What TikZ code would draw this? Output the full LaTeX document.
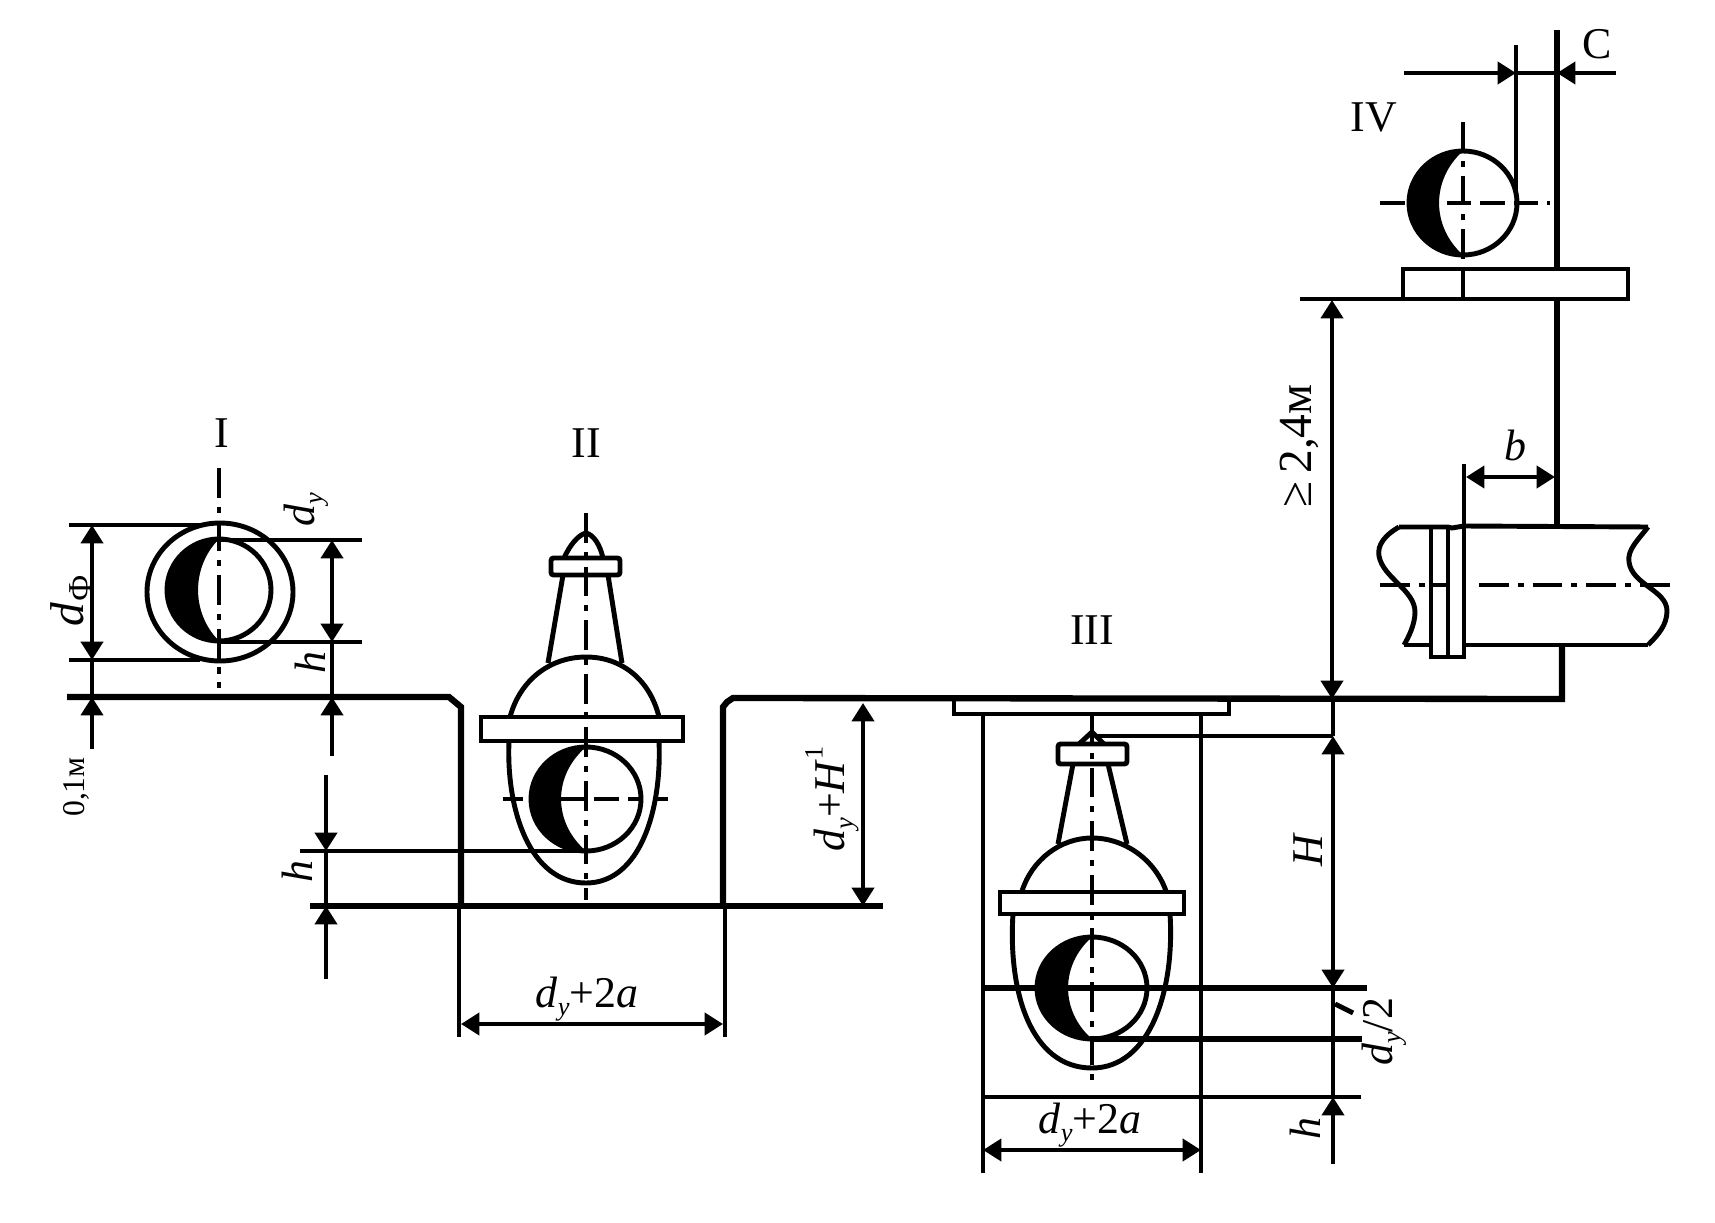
\documentclass[tikz,border=0pt]{standalone}
\usepackage{fontspec}
\setmainfont{Liberation Serif}
\usetikzlibrary{arrows.meta}

\newcommand{\dsub}[1]{\textit{d}\raisebox{-.4ex}{\fontsize{15}{15}\selectfont\textit{#1}}}
% inner circle with black crescent: x, y, x radius, y radius, x of the crescent edge
\newcommand{\lampeye}[5]{
    \draw[part] (#1,#2) ellipse [x radius=#3, y radius=#4];
    \fill (#1,#2-#4) arc [start angle=270, end angle=90, x radius=#3, y radius=#4]
        .. controls (#1+#5*1.33-#1*1.33,#2+0.45*#4) and (#1+#5*1.33-#1*1.33,#2-0.45*#4) .. (#1,#2-#4);
}

\begin{document}
\begin{tikzpicture}[
        x=0.02cm, y=-0.02cm,
        part/.style={line width=2.8pt},
        wall/.style={line width=3.6pt},
        ext/.style={line width=2.5pt},
        dim/.style={line width=2.5pt, {Triangle[length=10.5pt,width=12.5pt]}-{Triangle[length=10.5pt,width=12.5pt]}},
        dimin/.style={line width=2.5pt, -{Triangle[length=10.5pt,width=12.5pt]}},
        axis/.style={line width=2.6pt, dash pattern=on 17pt off 5pt on 3.5pt off 5pt},
        cross/.style={line width=2.6pt, dash pattern=on 14pt off 5pt},
        lbl/.style={inner sep=0pt, font=\fontsize{25}{30}\selectfont},
        small/.style={inner sep=0pt, font=\fontsize{18}{20}\selectfont}
    ]
        \useasboundingbox (0,0) rectangle (1715,1223);

        % Ground line and niche
        \draw[wall] (67,697) -- (449,697) -- (455,702) -- (461,707) -- (461,906);
        \draw[wall] (723,906) -- (723,707) -- (727,702) -- (733,698) -- (1562,699) -- (1562,645);
        \draw[wall] (310,906) -- (883,906);
        \draw[ext] (459,906) -- (459,1037);
        \draw[ext] (725,906) -- (725,1037);

        % Lamp I
        \node[lbl] (labelI) at (222,433) {I};
        \draw[axis] (219,468) -- (219,688);
        \draw[part] (220,592) ellipse [x radius=73, y radius=69];
        \lampeye{219}{590}{52}{51}{198}
        \draw[ext] (69,525) -- (200,525);
        \draw[ext] (69,660) -- (200,660);
        \draw[ext] (219,540) -- (362,540);
        \draw[ext] (219,642) -- (362,642);
        \draw[dim] (92,525) -- (92,660);
        \draw[ext] (92,660) -- (92,697);
        \draw[dimin] (92,749) -- (92,697);
        \draw[dim] (332,540) -- (332,642);
        \draw[ext] (332,642) -- (332,697);
        \draw[dimin] (332,756) -- (332,697);

        % Lamp II
        \node[lbl] (labelII) at (586,443) {II};
        \draw[axis] (586,513) -- (586,900);
        \draw[part] (564,558) .. controls (570,545) and (578,535) .. (586,533) .. controls (594,535) and (600,545) .. (603,558);
        \draw[part, rounded corners=1.5pt] (551,558) rectangle (620,575);
        \draw[part] (563,575) -- (548,663);
        \draw[part] (608,575) -- (622,663);
        \draw[part] (510,717) .. controls (520,680) and (550,657) .. (586,657) .. controls (622,657) and (650,680) .. (659,717);
        \draw[part] (481,717) rectangle (683,741);
        \draw[part] (509,741) .. controls (506,810) and (530,883) .. (586,883) .. controls (640,883) and (662,810) .. (659,741);
        \lampeye{586}{799}{55}{52}{561}
        \draw[cross] (561,799) -- (640,799);
        \draw[ext] (503,799) -- (523,799);
        \draw[ext] (653,799) -- (668,799);
        \draw[ext] (300,851) -- (586,851);
        \draw[dimin] (326,775) -- (326,851);
        \draw[ext] (326,851) -- (326,906);
        \draw[dimin] (326,979) -- (326,906);
        \draw[dim] (461,1024) -- (723,1024);
        \draw[dim] (863,703) -- (863,906);

        % Lamp III
        \node[lbl] (labelIII) at (1092,630) {III};
        \draw[part] (954,699) -- (954,714) -- (1229,714) -- (1229,699);
        \draw[ext] (983,714) -- (983,1173);
        \draw[ext] (1201,714) -- (1201,1173);
        \draw[axis] (1092,714) -- (1092,1085);
        \draw[part] (1079,744) -- (1092,732) -- (1104,744);
        \draw[part, rounded corners=1.5pt] (1058,744) rectangle (1127,764);
        \draw[part] (1073,764) -- (1058,844);
        \draw[part] (1108,764) -- (1127,844);
        \draw[part] (1022,891) .. controls (1032,860) and (1060,838) .. (1092,838) .. controls (1125,838) and (1155,860) .. (1166,891);
        \draw[part] (1000,892) rectangle (1184,914);
        \draw[part] (1013,914) .. controls (1008,990) and (1030,1068) .. (1092,1068) .. controls (1150,1068) and (1175,990) .. (1170,914);
        \lampeye{1092}{988}{55}{51}{1068}
        \draw[ext] (1097,736) -- (1333,736);
        \draw[wall] (983,988) -- (1367,988);
        \draw[wall] (1092,1039) -- (1362,1039);
        \draw[ext] (983,1097) -- (1361,1097);
        \draw[ext] (1333,699) -- (1333,736);
        \draw[dim] (1333,736) -- (1333,988);
        \draw[ext] (1333,988) -- (1333,1097);
        \draw[dimin] (1333,1164) -- (1333,1097);
        \draw[part] (1335,1004) -- (1353,1013);
        \draw[dim] (983,1150) -- (1201,1150);

        % Lamp IV
        \node[lbl] (labelIV) at (1374,117) {IV};
        \draw[wall] (1557,30) -- (1557,269);
        \draw[wall] (1557,301) -- (1557,526);
        \draw[part] (1516,45) -- (1516,195);
        \lampeye{1463}{203}{54}{52}{1439}
        \draw[axis] (1463,122) -- (1463,259);
        \draw[ext] (1463,271) -- (1463,298);
        \draw[cross] (1380,203) -- (1550,203);
        \draw[part] (1300,299) -- (1403,299) -- (1403,269) -- (1628,269) -- (1628,299) -- (1403,299);
        \draw[dimin] (1404,73) -- (1516,73);
        \draw[ext] (1516,73) -- (1557,73);
        \draw[dimin] (1616,73) -- (1557,73);
        \draw[dim] (1332,300) -- (1332,699);

        % Pipe
        \draw[part] (1399,527) -- (1448,527) -- (1452,528) -- (1464,526) -- (1648,527);
        \draw[part] (1404,645) -- (1431,645);
        \draw[part] (1464,645) -- (1648,645);
        \draw[part] (1399,527) .. controls (1385,535) and (1377,545) .. (1379,556) .. controls (1383,578) and (1415,590) .. (1415,612) .. controls (1415,625) and (1408,638) .. (1404,645);
        \draw[part] (1648,527) .. controls (1638,540) and (1627,550) .. (1629,562) .. controls (1632,585) and (1667,590) .. (1667,611) .. controls (1667,625) and (1658,635) .. (1648,645);
        \draw[part] (1431,527) -- (1431,657) -- (1464,657) -- (1464,464);
        \draw[part] (1448,527) -- (1448,657);
        \draw[axis] (1380,585) -- (1431,585);
        \draw[ext] (1431,585) -- (1448,585);
        \draw[axis] (1479,585) -- (1670,585);
        \draw[dim] (1466,477) -- (1555,477);

        % Labels
        \node[lbl, rotate=90] (dphi) at (71,601) {\fontsize{27}{30}\selectfont\textit{d}\hspace{1pt}\raisebox{-.4ex}{\fontsize{19}{19}\selectfont Ф}};
        \node[lbl, rotate=90] (dyI) at (306,510) {\dsub{y}};
        \node[lbl, rotate=90] (hI) at (310,663) {\textit{h}};
        \node[small, rotate=90] (zeroone) at (76,787) {0,1м};
        \node[lbl, rotate=90] (hII) at (297,872) {\textit{h}};
        \node[lbl] (widthII) at (587,999) {\dsub{y}+2\textit{a}};
        \node[lbl, rotate=90] (heightII) at (832,799) {\dsub{y}+\textit{H}\raisebox{1.1ex}{\fontsize{15}{15}\selectfont 1}};
        \node[lbl] (widthIII) at (1090,1125) {\dsub{y}+2\textit{a}};
        \node[lbl, rotate=90] (heightIII) at (1308,850) {\textit{H}};
        \node[lbl, rotate=90] (hIII) at (1305,1129) {\textit{h}};
        \node[lbl, rotate=90] (halfd) at (1384,1032) {\dsub{y}/2};
        \node[lbl, rotate=90, font=\fontsize{27}{30}\selectfont] (minh) at (1299,446) {≥\,2,4м};
        \node[lbl] (sizeb) at (1515,445) {\textit{b}};
        \node[lbl] (sizec) at (1597,44) {C};
    \end{tikzpicture}
\end{document}
